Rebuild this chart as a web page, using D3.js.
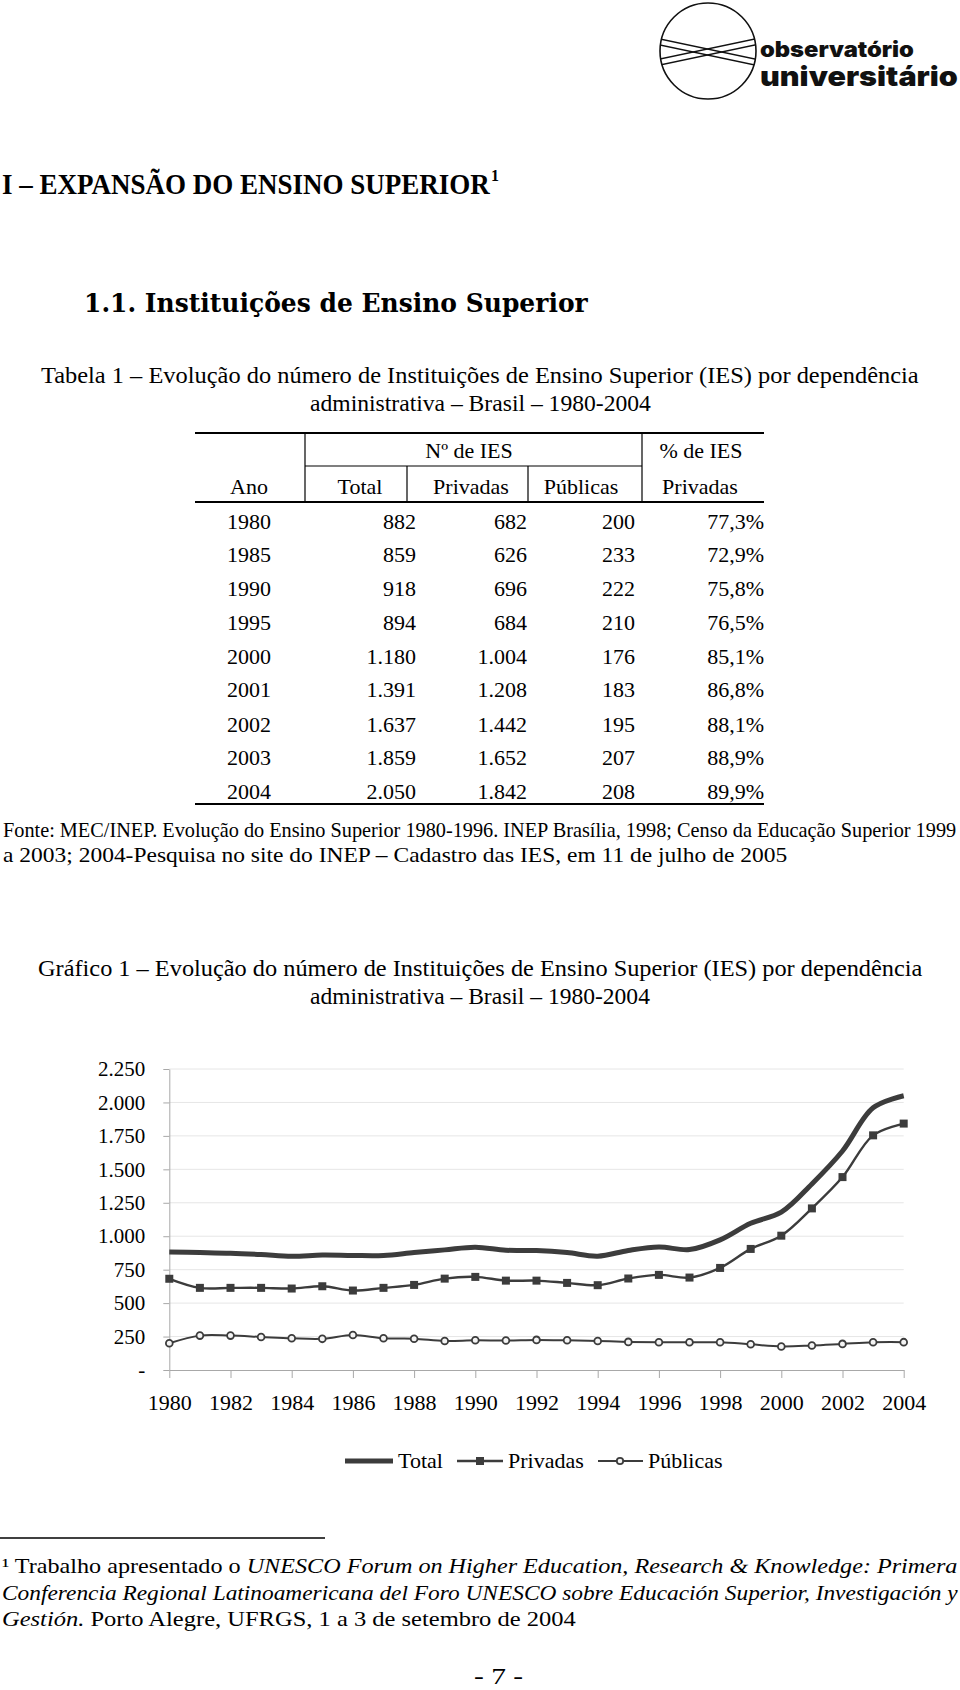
<!DOCTYPE html>
<html><head><meta charset="utf-8">
<script src="https://cdn.jsdelivr.net/npm/d3@7"></script>
<style>body{margin:0;background:#fff}svg{display:block}</style>
</head><body>
<svg id="page" width="960" height="1690"></svg>
<script>
// ---------- DATA ----------
const tableYears = ["1980","1985","1990","1995","2000","2001","2002","2003","2004"];
const tableTotal = ["882","859","918","894","1.180","1.391","1.637","1.859","2.050"];
const tablePriv  = ["682","626","696","684","1.004","1.208","1.442","1.652","1.842"];
const tablePub   = ["200","233","222","210","176","183","195","207","208"];
const tablePct   = ["77,3%","72,9%","75,8%","76,5%","85,1%","86,8%","88,1%","88,9%","89,9%"];

const years = [1980,1981,1982,1983,1984,1985,1986,1987,1988,1989,1990,1991,1992,1993,1994,1995,1996,1997,1998,1999,2000,2001,2002,2003,2004];
const totalSeries   = [882,878,873,863,850,859,856,856,878,898,918,895,893,878,851,894,920,900,973,1097,1180,1391,1637,1960,2050];
const privSeries    = [682,614,614,614,609,626,594,614,636,683,696,668,668,651,634,684,711,691,763,905,1004,1208,1442,1754,1842];
const pubSeries     = [200,257,257,247,237,233,262,237,234,217,222,220,225,222,217,210,207,207,207,192,176,183,195,207,208];
const yTicks = [0,250,500,750,1000,1250,1500,1750,2000,2250];
const xTickYears = [1980,1982,1984,1986,1988,1990,1992,1994,1996,1998,2000,2002,2004];
const seriesNames = ["Total","Privadas","Públicas"];

// ---------- HELPERS ----------
const svg = d3.select("#page");
svg.append("rect").attr("width",960).attr("height",1690).attr("fill","#fff");
const SERIF = "'Liberation Serif', 'Times New Roman', serif";
const INK = "#3c3c3c";

function fit(x0, x1, y, size, opts, build) {
  opts = opts || {};
  const t = svg.append("text").attr("x",0).attr("y",0)
    .style("font-family", opts.family || SERIF)
    .style("font-size", size + "px")
    .style("font-weight", opts.weight || "normal")
    .style("font-style", opts.style || "normal")
    .attr("fill", opts.fill || "#000");
  if (typeof build === "string") t.text(build); else build(t);
  const w = t.node().getComputedTextLength();
  t.attr("transform", `translate(${x0},${y}) scale(${(x1 - x0) / w},1)`);
  return t;
}
function txt(x, y, s, size, anchor, opts) {
  opts = opts || {};
  return svg.append("text").attr("x",x).attr("y",y).text(s)
    .style("font-family", opts.family || SERIF).style("font-size", size + "px")
    .style("font-weight", opts.weight || "normal")
    .attr("text-anchor", anchor || "start").attr("fill", opts.fill || "#000");
}
function hline(x0, x1, y, w) { svg.append("line").attr("x1",x0).attr("x2",x1).attr("y1",y).attr("y2",y).attr("stroke","#000").attr("stroke-width",w||1); }
function vline(x, y0, y1, w) { svg.append("line").attr("x1",x).attr("x2",x).attr("y1",y0).attr("y2",y1).attr("stroke","#000").attr("stroke-width",w||1); }

// ---------- LOGO ----------
const defs = svg.append("defs");
defs.append("clipPath").attr("id","logoClip").append("circle").attr("cx",708).attr("cy",51).attr("r",48);
const logo = svg.append("g");
logo.append("circle").attr("cx",708).attr("cy",51).attr("r",48).attr("fill","none").attr("stroke","#111").attr("stroke-width",1.6);
const xg = logo.append("g").attr("clip-path","url(#logoClip)");
[[655,38,760,60],[655,44,760,66],[655,60,760,38],[655,66,760,44]].forEach(d => {
  xg.append("line").attr("x1",d[0]).attr("y1",d[1]).attr("x2",d[2]).attr("y2",d[3]).attr("stroke","#111").attr("stroke-width",1.4);
});
fit(760, 914, 57, 21, {family:"Inter, 'DejaVu Sans', sans-serif", weight:900, fill:"#111"}, "observatório");
fit(760, 958, 86, 27, {family:"Inter, 'DejaVu Sans', sans-serif", weight:900, fill:"#111"}, "universitário");

// ---------- HEADINGS ----------
fit(2, 490, 194, 29, {weight:"bold"}, "I – EXPANSÃO DO ENSINO SUPERIOR");
txt(491, 181, "1", 16, "start", {weight:"bold"});
fit(84, 588, 312, 26, {family:"'DejaVu Serif', serif", weight:"bold"}, "1.1. Instituições de Ensino Superior");

fit(41, 919, 383, 24, {}, "Tabela 1 – Evolução do número de Instituições de Ensino Superior (IES)  por dependência");
fit(310, 651, 411, 24, {}, "administrativa – Brasil – 1980-2004");

// ---------- TABLE ----------
hline(195, 764, 433, 2);
vline(305, 433, 502, 1.2);
vline(642, 433, 502, 1.2);
hline(305, 642, 466, 1.2);
vline(407, 466, 502, 1.2);
vline(528, 466, 502, 1.2);
hline(195, 764, 502, 2);
hline(195, 764, 804, 2);

txt(469, 458, "Nº de IES", 22, "middle");
txt(701, 458, "% de IES", 22, "middle");
txt(249, 494, "Ano", 22, "middle");
txt(360, 494, "Total", 22, "middle");
txt(471, 494, "Privadas", 22, "middle");
txt(581, 494, "Públicas", 22, "middle");
txt(700, 494, "Privadas", 22, "middle");

const rowBase = [529, 562, 596, 630, 664, 697, 732, 765, 799];
tableYears.forEach((yr, i) => {
  const yb = rowBase[i];
  txt(249, yb, yr, 22, "middle");
  txt(416, yb, tableTotal[i], 22, "end");
  txt(527, yb, tablePriv[i], 22, "end");
  txt(635, yb, tablePub[i], 22, "end");
  txt(764, yb, tablePct[i], 22, "end");
});

fit(3, 957, 837, 21, {}, "Fonte: MEC/INEP. Evolução do Ensino Superior 1980-1996. INEP Brasília, 1998; Censo da Educação Superior 1999");
fit(3, 788, 862, 21, {}, "a 2003; 2004-Pesquisa no site do INEP – Cadastro das IES, em 11 de julho de 2005");

fit(38, 923, 976, 24, {}, "Gráfico 1 – Evolução do número de Instituições de Ensino Superior (IES)  por dependência");
fit(310, 650, 1004, 24, {}, "administrativa – Brasil – 1980-2004");

// ---------- CHART ----------
const x = d3.scaleLinear().domain([1980, 2004]).range([169.3, 903.7]);
const y = d3.scaleLinear().domain([0, 2250]).range([1370, 1069]);
const loc = d3.formatLocale({decimal:",", thousands:".", grouping:[3], currency:["",""]});
const fmt = loc.format(",d");

const chart = svg.append("g");
chart.selectAll("line.grid").data(yTicks.filter(d => d > 0)).join("line")
  .attr("class","grid").attr("x1", x(1980)).attr("x2", x(2004))
  .attr("y1", d => y(d)).attr("y2", d => y(d))
  .attr("stroke", "#e6e6e6").attr("stroke-width", 1);

const yAxis = chart.append("g").attr("transform", `translate(${x(1980)},0)`)
  .call(d3.axisLeft(y).tickValues(yTicks).tickSize(6).tickSizeOuter(0).tickPadding(18)
    .tickFormat(d => d === 0 ? "-" : fmt(d)));
yAxis.selectAll("path,line").attr("stroke", "#a8a8a8");
yAxis.selectAll("text").style("font-family", SERIF).style("font-size","21px").attr("fill","#000");

const xAxis = chart.append("g").attr("transform", `translate(0,${y(0)})`)
  .call(d3.axisBottom(x).tickValues(xTickYears).tickSize(8).tickSizeOuter(0).tickPadding(16)
    .tickFormat(d => String(d)));
xAxis.selectAll("path,line").attr("stroke", "#a8a8a8");
xAxis.selectAll("text").style("font-family", SERIF).style("font-size","22px").attr("fill","#000");

const line = d3.line().x((d, i) => x(years[i])).y(d => y(d)).curve(d3.curveCatmullRom.alpha(0.5));

chart.append("path").datum(pubSeries).attr("d", line).attr("fill","none").attr("stroke", INK).attr("stroke-width", 2);
chart.selectAll("circle.pub").data(pubSeries).join("circle").attr("class","pub")
  .attr("cx", (d, i) => x(years[i])).attr("cy", d => y(d)).attr("r", 3.4)
  .attr("fill", "#f4f4f4").attr("stroke", INK).attr("stroke-width", 1.8);

chart.append("path").datum(privSeries).attr("d", line).attr("fill","none").attr("stroke", INK).attr("stroke-width", 2.4);
chart.selectAll("rect.priv").data(privSeries).join("rect").attr("class","priv")
  .attr("x", (d, i) => x(years[i]) - 4).attr("y", d => y(d) - 4).attr("width", 8).attr("height", 8)
  .attr("fill", INK);

chart.append("path").datum(totalSeries).attr("d", line).attr("fill","none").attr("stroke", INK).attr("stroke-width", 5);

// Legend
const lg = svg.append("g");
const ly = 1461;
lg.append("line").attr("x1",345).attr("x2",393).attr("y1",ly).attr("y2",ly).attr("stroke",INK).attr("stroke-width",5);
txt(398, 1468, seriesNames[0], 22, "start");
lg.append("line").attr("x1",457).attr("x2",503).attr("y1",ly).attr("y2",ly).attr("stroke",INK).attr("stroke-width",2.4);
lg.append("rect").attr("x",476).attr("y",ly-4).attr("width",8).attr("height",8).attr("fill",INK);
txt(508, 1468, seriesNames[1], 22, "start");
lg.append("line").attr("x1",598).attr("x2",643).attr("y1",ly).attr("y2",ly).attr("stroke",INK).attr("stroke-width",2);
lg.append("circle").attr("cx",620).attr("cy",ly).attr("r",3.2).attr("fill","#f4f4f4").attr("stroke",INK).attr("stroke-width",1.8);
txt(648, 1468, seriesNames[2], 22, "start");

// ---------- FOOTNOTE ----------
hline(0, 325, 1538, 1.3);
fit(2, 958, 1573, 22, {}, t => {
  t.append("tspan").text("¹ Trabalho apresentado o ");
  t.append("tspan").style("font-style","italic").text("UNESCO Forum on Higher Education, Research & Knowledge: Primera");
});
fit(2, 958, 1600, 22, {style:"italic"}, "Conferencia Regional Latinoamericana del Foro UNESCO sobre Educación Superior, Investigación y");
fit(2, 576, 1626, 22, {}, t => {
  t.append("tspan").style("font-style","italic").text("Gestión.");
  t.append("tspan").text("   Porto Alegre, UFRGS, 1 a 3 de setembro de 2004");
});
fit(474, 523, 1684, 24, {}, "- 7 -");
</script>
</body></html>
